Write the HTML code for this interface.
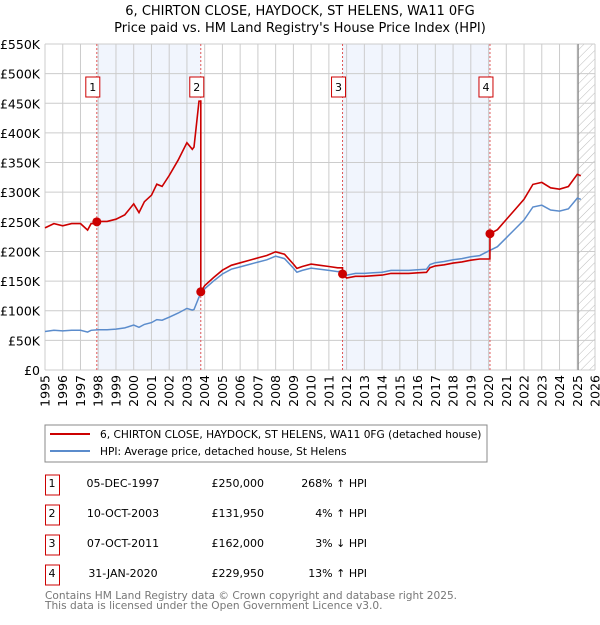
<!DOCTYPE html>
<html><head><meta charset="utf-8"><style>
body{margin:0;background:#fff;font-family:"Liberation Sans","DejaVu Sans",sans-serif;}
svg text{font-family:"DejaVu Sans","Liberation Sans",sans-serif;}
</style></head><body>
<svg id="c" width="600" height="620" xmlns="http://www.w3.org/2000/svg">
<defs><pattern id="hatch" width="6" height="6" patternUnits="userSpaceOnUse" patternTransform="rotate(45)"><line x1="0" y1="0" x2="0" y2="6" stroke="#bbb" stroke-width="1"/></pattern></defs>
<text x="300" y="15" text-anchor="middle" font-size="13">6, CHIRTON CLOSE, HAYDOCK, ST HELENS, WA11 0FG</text>
<text x="300" y="32" text-anchor="middle" font-size="13">Price paid vs. HM Land Registry's House Price Index (HPI)</text>
<g id="plot"></g>
<rect x="45" y="425" width="442" height="37" fill="#fff" stroke="#888"/>
<line x1="50" y1="434" x2="90" y2="434" stroke="#cc0000" stroke-width="2"/>
<text x="100" y="438" font-size="10.6">6, CHIRTON CLOSE, HAYDOCK, ST HELENS, WA11 0FG (detached house)</text>
<line x1="50" y1="451" x2="90" y2="451" stroke="#5b8ccc" stroke-width="2"/>
<text x="100" y="455" font-size="10.6">HPI: Average price, detached house, St Helens</text>
<g id="table"></g>
<text x="45" y="599" font-size="10.6" fill="#777">Contains HM Land Registry data © Crown copyright and database right 2025.</text>
<text x="45" y="609" font-size="10.6" fill="#777">This data is licensed under the Open Government Licence v3.0.</text>
</svg>
<script>
const hpiYears=[1995,1995.5,1996,1996.5,1997,1997.4,1997.6,1998,1998.5,1999,1999.5,2000,2000.3,2000.6,2001,2001.3,2001.6,2002,2002.5,2003,2003.3,2003.4,2003.68,2003.78,2004,2004.5,2005,2005.5,2006,2006.5,2007,2007.5,2008,2008.5,2009,2009.2,2009.5,2010,2010.5,2011,2011.5,2011.77,2012,2012.5,2013,2013.5,2014,2014.5,2015,2015.5,2016,2016.5,2016.7,2017,2017.5,2018,2018.5,2019,2019.5,2020.08,2020.5,2021,2021.5,2022,2022.5,2023,2023.5,2024,2024.5,2025,2025.2];
const hpiValues=[65,67,66,67,67,64,67,68,68,69,71,76,72,77,80,85,84,89,96,104,101,102,123,127,137,150,162,170,174,178,182,186,192,188,172,165,168,172,170,168,166,167,160,163,163,164,165,168,168,168,169,170,178,181,183,186,188,191,193,202,208,223,238,253,275,278,270,268,272,290,288];
const saleYears=[1997.92,2003.78,2011.77,2020.08];
const salePrices=[250,131.95,162,229.95];
const saleLabels=["1","2","3","4"];
const saleDates=["05-DEC-1997","10-OCT-2003","07-OCT-2011","31-JAN-2020"];
const salePriceText=["£250,000","£131,950","£162,000","£229,950"];
const saleDiffText=["268% ↑ HPI","4% ↑ HPI","3% ↓ HPI","13% ↑ HPI"];
const yTicks=[0,50,100,150,200,250,300,350,400,450,500,550];
const yTickLabels=["£0","£50K","£100K","£150K","£200K","£250K","£300K","£350K","£400K","£450K","£500K","£550K"];
const xTicks=[1995,1996,1997,1998,1999,2000,2001,2002,2003,2004,2005,2006,2007,2008,2009,2010,2011,2012,2013,2014,2015,2016,2017,2018,2019,2020,2021,2022,2023,2024,2025,2026];

const NS="http://www.w3.org/2000/svg";
const X0=45,X1=595,Y0=370,Y1=44;
const xs=t=>X0+(t-1995)/(2026-1995)*(X1-X0);
const ys=v=>Y0-v/550*(Y0-Y1);
const plot=document.getElementById('plot');
function mk(tag,attrs,parent){const e=document.createElementNS(NS,tag);for(const k in attrs)e.setAttribute(k,attrs[k]);(parent||plot).appendChild(e);return e;}
function hpiAt(t){for(let i=1;i<hpiYears.length;i++){if(t<=hpiYears[i]){const a=hpiYears[i-1],b=hpiYears[i];return hpiValues[i-1]+(hpiValues[i]-hpiValues[i-1])*(t-a)/(b-a);}}return hpiValues[hpiValues.length-1];}

for(let i=0;i<saleYears.length;i+=2){
  const r=mk('rect',{x:xs(saleYears[i]),y:Y1,width:xs(saleYears[i+1])-xs(saleYears[i]),height:Y0-Y1,fill:'#eef3fc',opacity:0.8});
  
  
}
const hx=xs(2025.05);
const h=mk('rect',{x:hx,y:Y1,width:X1-hx,height:Y0-Y1,fill:'url(#hatch)'});


xTicks.forEach((t,i)=>{
  const g=mk('line',{x1:xs(t),x2:xs(t),y1:Y1,y2:Y0,stroke:'#ccc','stroke-width':1});
  
  
  const x=xs(t);
  const tx=mk('text',{x:0,y:0,'font-size':12.5,'text-anchor':'end',transform:`translate(${x+4.5},375) rotate(-90)`});
  tx.textContent=t;
  
  
});
yTicks.forEach((v,i)=>{
  const g=mk('line',{x1:X0,x2:X1,y1:ys(v),y2:ys(v),stroke:'#ccc','stroke-width':1});
  
  
  const tx=mk('text',{x:40,y:ys(v)+5,'font-size':12.5,'text-anchor':'end'});
  tx.textContent=yTickLabels[i];
  
  
});
const vl=mk('line',{x1:hx,x2:hx,y1:Y1,y2:Y0,stroke:'#888','stroke-width':1.2});


saleYears.forEach((t,i)=>{
  const l=mk('line',{x1:xs(t),x2:xs(t),y1:Y1,y2:Y0,stroke:'#e05555','stroke-width':1,'stroke-dasharray':'2,2'});
  
  
});
let d='';hpiYears.forEach((t,i)=>{d+=(i?'L':'M')+xs(t).toFixed(1)+','+ys(hpiValues[i]).toFixed(1);});
const hp=mk('path',{d:d,fill:'none',stroke:'#5b8ccc','stroke-width':1.5});


function ratioAt(t){let k=0;for(let i=0;i<saleYears.length;i++)if(t>=saleYears[i])k=i;return salePrices[k]/hpiAt(saleYears[k]);}
const ts=hpiYears.filter(t=>!saleYears.some(s=>Math.abs(s-t)<0.05&&t<s));
saleYears.forEach(s=>{ts.push(s-0.001);ts.push(s);});
ts.sort((a,b)=>a-b);
const pts=ts.map(t=>{
  const tt=saleYears.some(s=>Math.abs(s-0.001-t)<1e-6)?Math.max(...hpiYears.filter(y=>y<t)):t;
  return [xs(t),ys(hpiAt(tt)*ratioAt(t))];
});
const pp=mk('path',{d:pts.map((p,i)=>(i?'L':'M')+p[0].toFixed(1)+','+p[1].toFixed(1)).join(''),fill:'none',stroke:'#cc0000','stroke-width':1.6});


saleYears.forEach((t,i)=>{
  const c=mk('circle',{cx:xs(t),cy:ys(salePrices[i]),r:4.5,fill:'#cc0000'});
  
  
  const bx=xs(t)-11;
  const r=mk('rect',{x:bx,y:77,width:14,height:20,fill:'#fff',stroke:'#cc0000','stroke-width':1});
  
  
  const tx=mk('text',{x:bx+7,y:91,'font-size':11,'text-anchor':'middle'});
  tx.textContent=saleLabels[i];
  
  
});
const tb=document.getElementById('table');
saleLabels.forEach((lb,i)=>{
  const y=487+i*30;
  const r=mk('rect',{x:45.5,y:y-12,width:14,height:20,fill:'#fff',stroke:'#cc0000'},tb);
  
  
  const cells=[[52,'middle',lb,'table-row-number'],[123,'middle',saleDates[i],'table-row-date'],[264,'end',salePriceText[i],'table-row-price'],[367,'end',saleDiffText[i],'table-row-hpi-diff']];
  cells.forEach(cl=>{
    const tx=mk('text',{x:cl[0],y:y,'font-size':11,'text-anchor':cl[1]},tb);
    tx.textContent=cl[2];
    
    
  });
});
</script>
</body></html>
